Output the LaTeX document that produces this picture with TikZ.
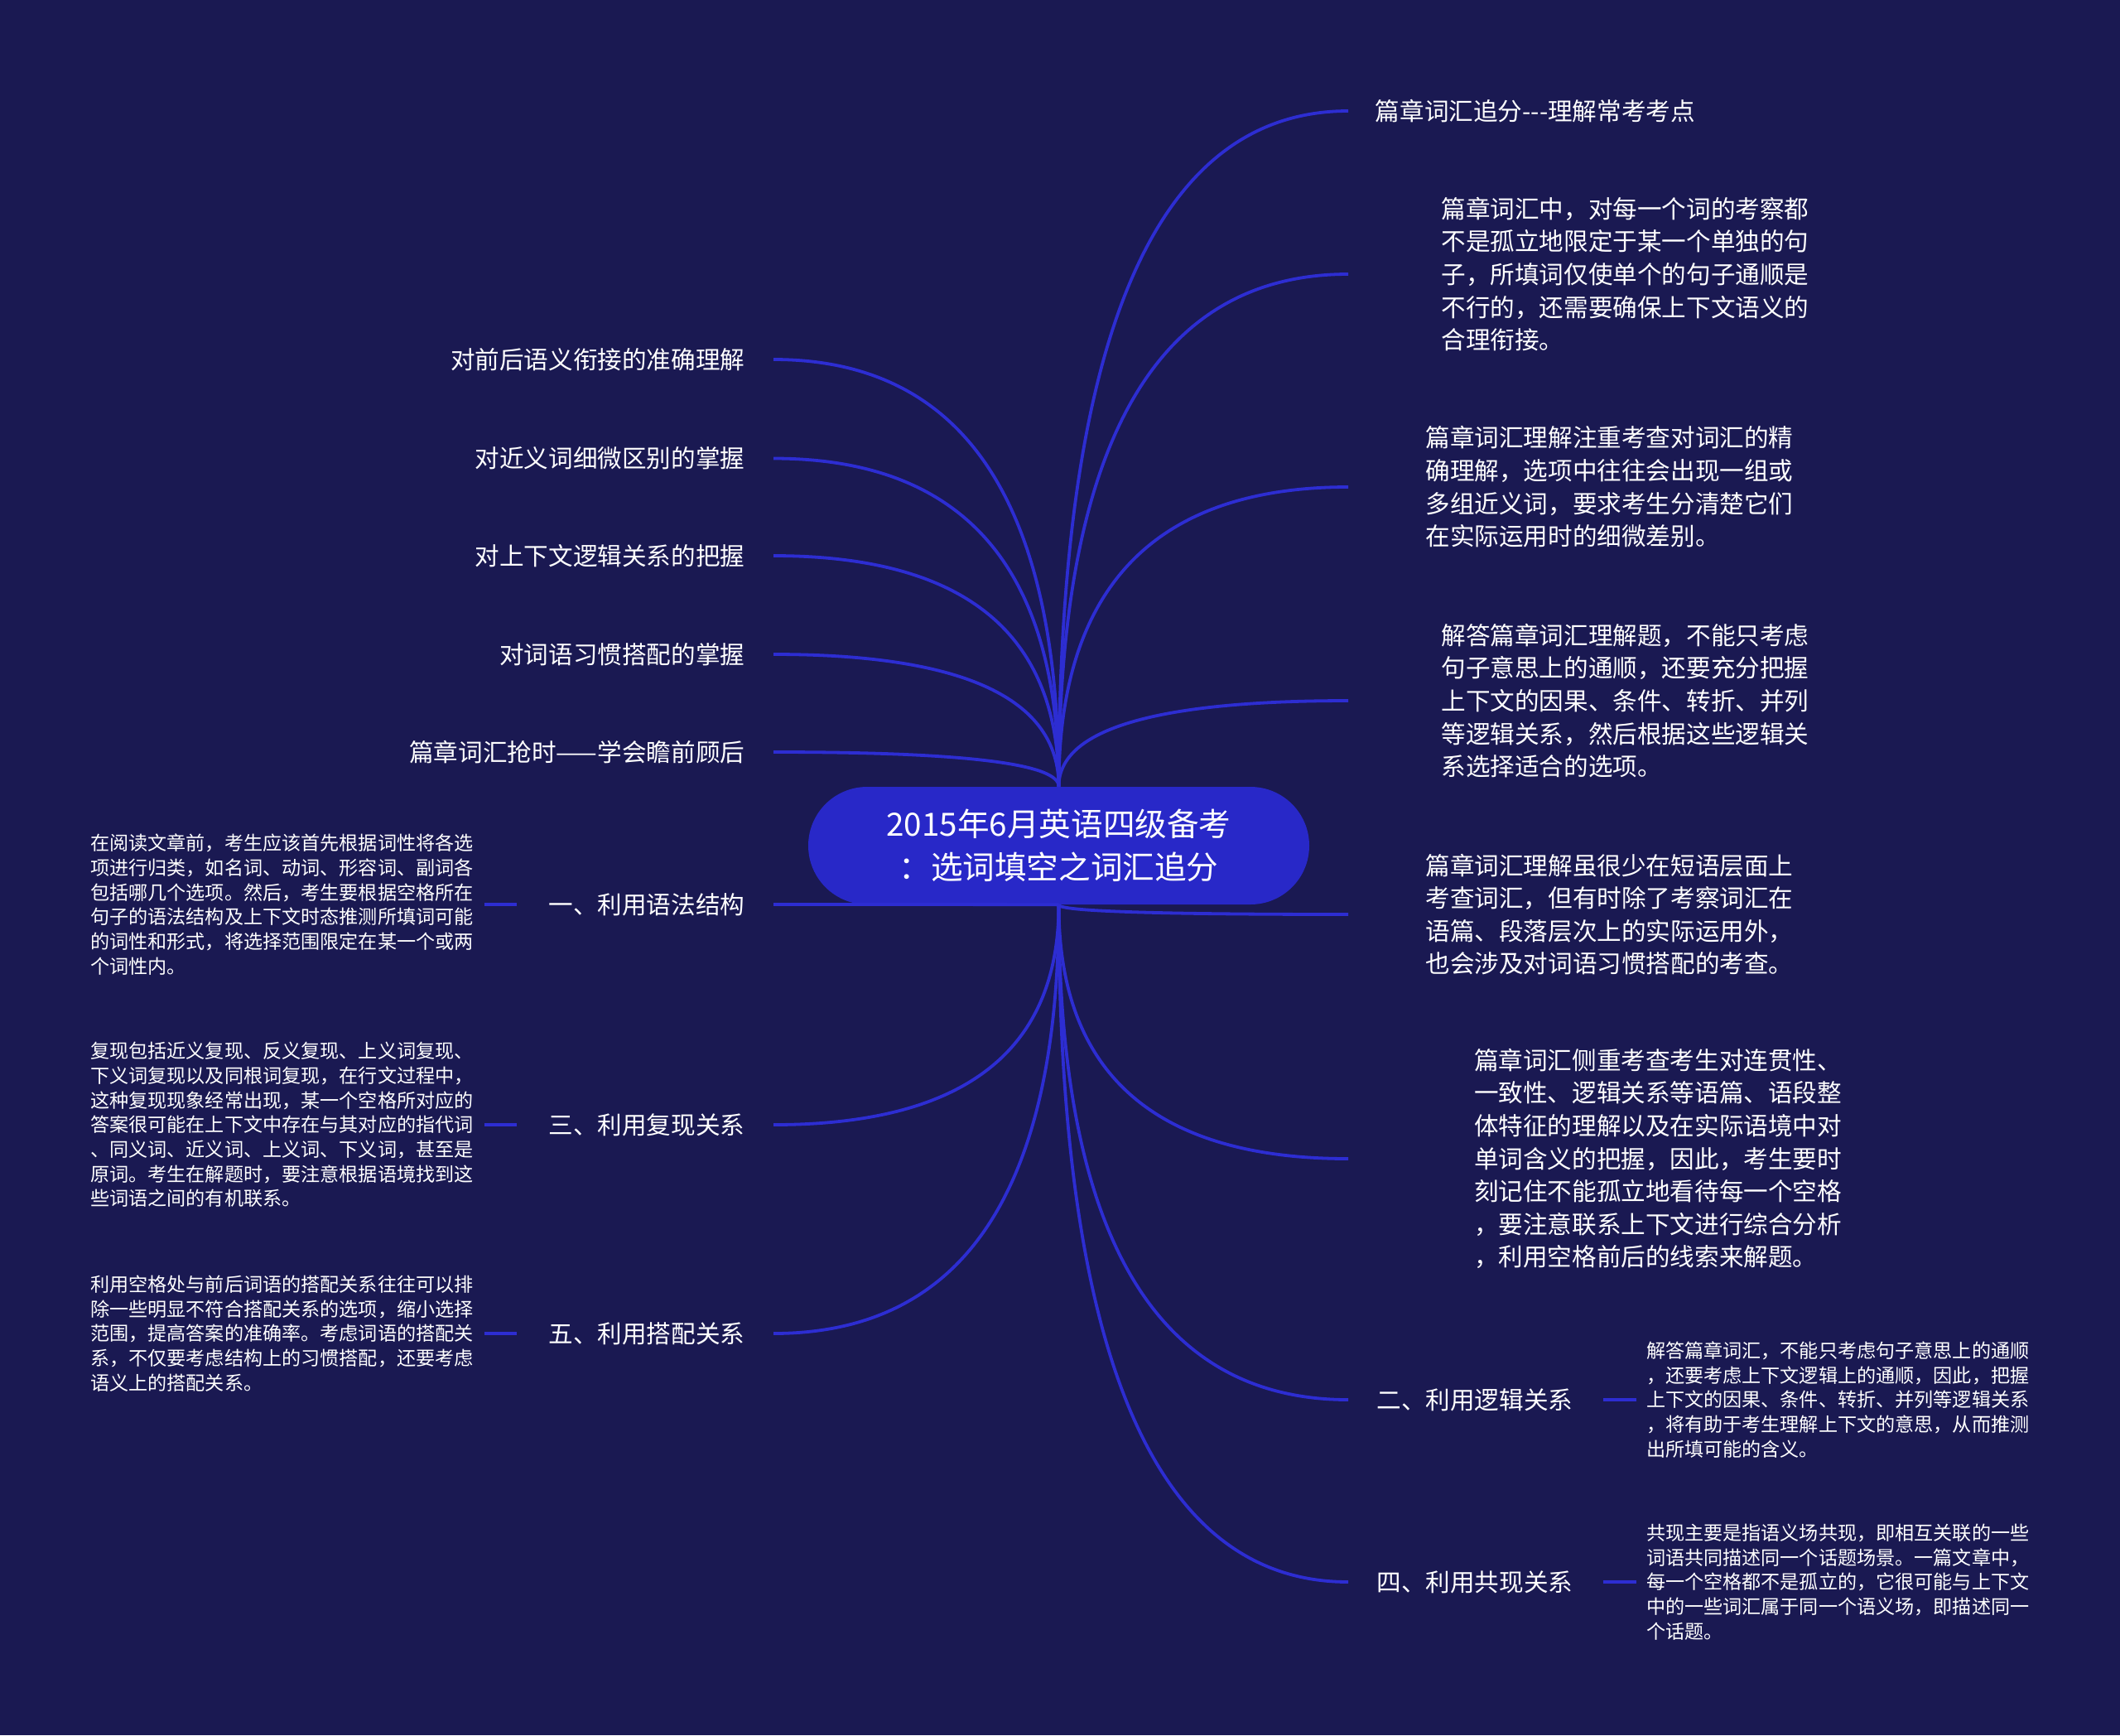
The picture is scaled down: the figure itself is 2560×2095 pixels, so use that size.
\documentclass[tikz,border=0pt]{standalone}
\usepackage{fontspec}
\setmainfont{Noto Sans CJK SC}
\usepackage{xcolor}
\usepackage{tikz}
\usetikzlibrary{positioning,calc}

\definecolor{bgnavy}{HTML}{1A1952}
\definecolor{linkblue}{HTML}{2D2DD2}
\definecolor{hubblue}{HTML}{2828C8}

\newcommand\branch[2]{\draw[link] (#1) .. controls ($(#1)!2/3!(#1|-#2)$) and ($(#2)!2/3!(#1|-#2)$) .. (#2);}

\begin{document}
\begin{tikzpicture}[
  x=0.5pt, y=-0.5pt,
  hub/.style={fill=hubblue, rounded corners=35.5pt, minimum width=302.5pt, minimum height=71pt, align=center, text=white, font=\fontsize{19.3}{26}\selectfont},
  leaf/.style={inner sep=0pt, align=left, text=white, font=\fontsize{14.8}{19.8}\selectfont},
  note/.style={inner sep=0pt, align=left, text=white, font=\fontsize{11.56}{14.86}\selectfont},
  link/.style={draw=linkblue, line width=1.9pt},
]

\fill[bgnavy] (0,0) rectangle (2560,2095);

\node[hub] (hub) at (1278.5,1021) {2015年6月英语四级备考\\：选词填空之词汇追分};

\coordinate (r1e) at (1628,134);
\coordinate (r2e) at (1628,331);
\coordinate (r3e) at (1628,588);
\coordinate (r4e) at (1628,846);
\coordinate (r5e) at (1628,1104);
\coordinate (r6e) at (1628,1399);
\coordinate (r7e) at (1628,1690);
\coordinate (r8e) at (1628,1910);

\coordinate (l1e) at (934,434);
\coordinate (l2e) at (934,553.5);
\coordinate (l3e) at (934,671);
\coordinate (l4e) at (934,790);
\coordinate (l5e) at (934,908);
\coordinate (l6e) at (934,1092);
\coordinate (l7e) at (934,1358);
\coordinate (l8e) at (934,1610);

\node[leaf, right=16.25pt of r1e] (r1) {篇章词汇追分-{}-{}-理解常考考点};
\node[leaf, right=56pt of r2e] (r2) {篇章词汇中，对每一个词的考察都\\不是孤立地限定于某一个单独的句\\子，所填词仅使单个的句子通顺是\\不行的，还需要确保上下文语义的\\合理衔接。};
\node[leaf, right=46.5pt of r3e] (r3) {篇章词汇理解注重考查对词汇的精\\确理解，选项中往往会出现一组或\\多组近义词，要求考生分清楚它们\\在实际运用时的细微差别。};
\node[leaf, right=56pt of r4e] (r4) {解答篇章词汇理解题，不能只考虑\\句子意思上的通顺，还要充分把握\\上下文的因果、条件、转折、并列\\等逻辑关系，然后根据这些逻辑关\\系选择适合的选项。};
\node[leaf, right=46.5pt of r5e] (r5) {篇章词汇理解虽很少在短语层面上\\考查词汇，但有时除了考察词汇在\\语篇、段落层次上的实际运用外，\\也会涉及对词语习惯搭配的考查。};
\node[leaf, right=75.8pt of r6e] (r6) {篇章词汇侧重考查考生对连贯性、\\一致性、逻辑关系等语篇、语段整\\体特征的理解以及在实际语境中对\\单词含义的把握，因此，考生要时\\刻记住不能孤立地看待每一个空格\\，要注意联系上下文进行综合分析\\，利用空格前后的线索来解题。};
\node[leaf, right=17pt of r7e] (r7) {二、利用逻辑关系};
\node[leaf, right=17pt of r8e] (r8) {四、利用共现关系};
\node[note, right=44pt of r7] (r7n) {解答篇章词汇，不能只考虑句子意思上的通顺\\，还要考虑上下文逻辑上的通顺，因此，把握\\上下文的因果、条件、转折、并列等逻辑关系\\，将有助于考生理解上下文的意思，从而推测\\出所填可能的含义。};
\node[note, right=44pt of r8] (r8n) {共现主要是指语义场共现，即相互关联的一些\\词语共同描述同一个话题场景。一篇文章中，\\每一个空格都不是孤立的，它很可能与上下文\\中的一些词汇属于同一个语义场，即描述同一\\个话题。};

\node[leaf, left=17.2pt of l1e] (l1) {对前后语义衔接的准确理解};
\node[leaf, left=17.2pt of l2e] (l2) {对近义词细微区别的掌握};
\node[leaf, left=17.2pt of l3e] (l3) {对上下文逻辑关系的把握};
\node[leaf, left=17.2pt of l4e] (l4) {对词语习惯搭配的掌握};
\node[leaf, left=17.2pt of l5e] (l5) {篇章词汇抢时——学会瞻前顾后};
\node[leaf, left=17.2pt of l6e] (l6) {一、利用语法结构};
\node[leaf, left=17.2pt of l7e] (l7) {三、利用复现关系};
\node[leaf, left=17.2pt of l8e] (l8) {五、利用搭配关系};
\node[note, left=45pt of l6] (l6n) {在阅读文章前，考生应该首先根据词性将各选\\项进行归类，如名词、动词、形容词、副词各\\包括哪几个选项。然后，考生要根据空格所在\\句子的语法结构及上下文时态推测所填词可能\\的词性和形式，将选择范围限定在某一个或两\\个词性内。};
\node[note, left=45pt of l7] (l7n) {复现包括近义复现、反义复现、上义词复现、\\下义词复现以及同根词复现，在行文过程中，\\这种复现现象经常出现，某一个空格所对应的\\答案很可能在上下文中存在与其对应的指代词\\、同义词、近义词、上义词、下义词，甚至是\\原词。考生在解题时，要注意根据语境找到这\\些词语之间的有机联系。};
\node[note, left=45pt of l8] (l8n) {利用空格处与前后词语的搭配关系往往可以排\\除一些明显不符合搭配关系的选项，缩小选择\\范围，提高答案的准确率。考虑词语的搭配关\\系，不仅要考虑结构上的习惯搭配，还要考虑\\语义上的搭配关系。};

\branch{hub.north}{r1e}
\branch{hub.north}{r2e}
\branch{hub.north}{r3e}
\branch{hub.north}{r4e}
\branch{hub.south}{r5e}
\branch{hub.south}{r6e}
\branch{hub.south}{r7e}
\branch{hub.south}{r8e}
\branch{hub.north}{l1e}
\branch{hub.north}{l2e}
\branch{hub.north}{l3e}
\branch{hub.north}{l4e}
\branch{hub.north}{l5e}
\branch{hub.south}{l6e}
\branch{hub.south}{l7e}
\branch{hub.south}{l8e}

\draw[link] ([xshift=18pt]r7.east) -- ([xshift=-6pt]r7n.west);
\draw[link] ([xshift=18pt]r8.east) -- ([xshift=-6pt]r8n.west);
\draw[link] ([xshift=-19pt]l6.west) -- ([xshift=6.5pt]l6n.east);
\draw[link] ([xshift=-19pt]l7.west) -- ([xshift=6.5pt]l7n.east);
\draw[link] ([xshift=-19pt]l8.west) -- ([xshift=6.5pt]l8n.east);

\end{tikzpicture}
\end{document}
